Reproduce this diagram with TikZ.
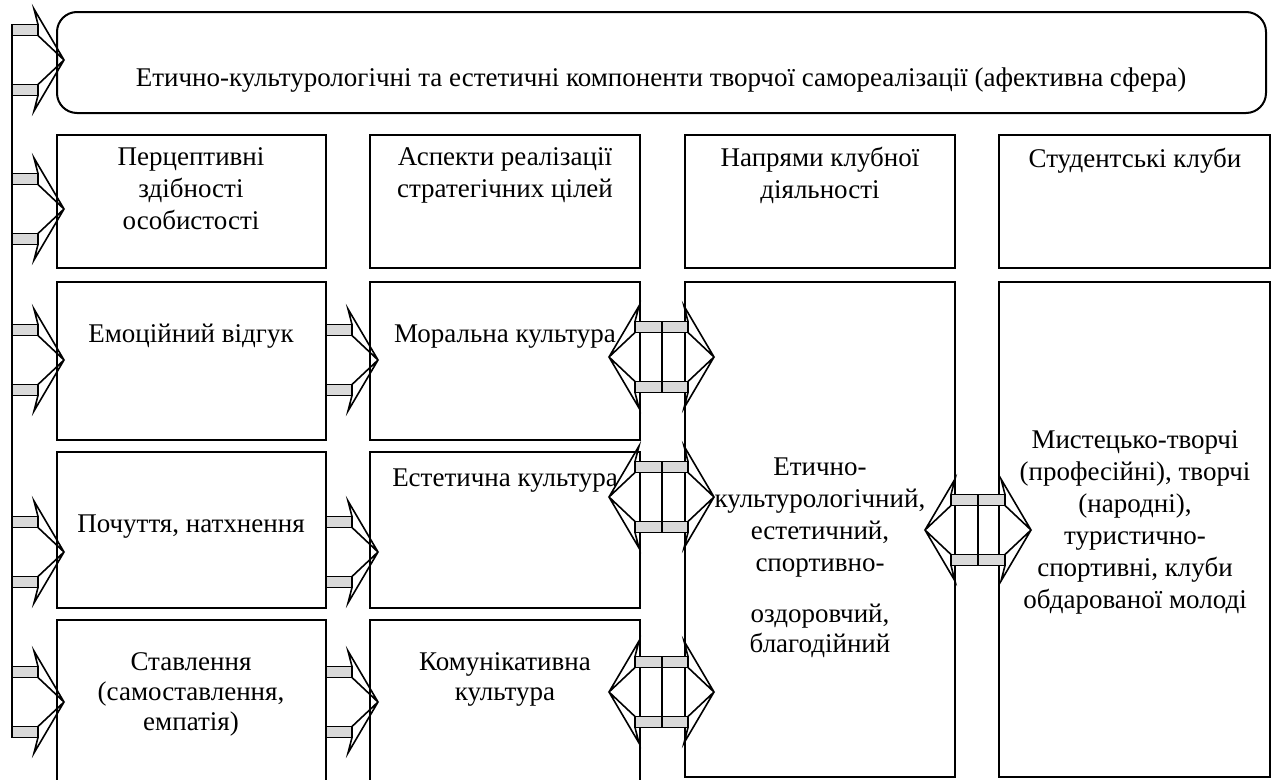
\documentclass[tikz,border=0pt]{standalone}
\usepackage{fontspec}
\setmainfont{Liberation Serif}
\newcommand\ahd[3]{% shaft end x, direction, centre y
  \draw[head] ({#1-#2*4},{#3-51}) -- ({#1+#2*26},#3) -- ({#1-#2*4},{#3+51})
    -- (#1,{#3+35.5}) -- (#1,{#3+24.5}) -- ({#1+#2*26},#3)
    -- (#1,{#3-24.5}) -- (#1,{#3-35.5}) -- cycle;}
\newcommand\shf[3]{% x1, x2, centre y
  \draw[shaft] (#1,{#3-35.5}) rectangle (#2,{#3-24.5});
  \draw[shaft] (#1,{#3+24.5}) rectangle (#2,{#3+35.5});}
\newcommand\dbl[3]{% left x, right x, centre y
  \shf{#1}{#2}{#3}
  \draw[conn] ({(#1+#2)/2},{#3-35.5}) -- ({(#1+#2)/2},{#3+35.5});
  \ahd{#2}{1}{#3}
  \ahd{#1}{-1}{#3}}
\begin{document}
\begin{tikzpicture}[x=1pt,y=-1pt,
  box/.style={draw=black,line width=2pt},
  shaft/.style={draw=black,line width=1.6pt,fill=black!15},
  head/.style={draw=black,line width=1.6pt,fill=white,miter limit=12},
  conn/.style={draw=black,line width=2pt},
  txt/.style={font=\fontsize{27}{32}\selectfont,align=center,inner sep=0pt,anchor=north,
    execute at begin node={\rule{0pt}{20pt}}},
  txtb/.style={txt,font=\fontsize{27}{30}\selectfont}]
\useasboundingbox (0,0) rectangle (1271,779);
% left connector and arrows
\draw[conn] (12,24.5) -- (12,737.5);
\foreach \c in {60,209,360,552,702}{\shf{12}{38}{\c}\ahd{38}{1}{\c}}
\foreach \c in {360,552,702}{\shf{326}{352}{\c}\ahd{352}{1}{\c}}
% boxes
\draw[box,rounded corners=20pt] (57,12) rectangle (1266,113);
\foreach \xa/\xb in {57/326,370/640,685/955,999/1270}{\draw[box] (\xa,135) rectangle (\xb,268);}
\foreach \xa/\xb in {57/326,370/640}{
  \draw[box] (\xa,282) rectangle (\xb,440);
  \draw[box] (\xa,452) rectangle (\xb,608);
  \draw[box] (\xa,620) rectangle (\xb,781);}
\draw[box] (685,282) rectangle (955,777);
\draw[box] (999,282) rectangle (1270,777);
% texts
\node[txt] (t0) at (661,66) {Етично-культурологічні та естетичні компоненти творчої самореалізації (афективна сфера)};
\node[txt] (h1) at (191,147) {Перцептивні\\здібності\\особистості};
\node[txt] (h2) at (505,147) {Аспекти реалізації\\стратегічних цілей};
\node[txt] (h3) at (820,147) {Напрями клубної\\діяльності};
\node[txt] (h4) at (1135,147) {Студентські клуби};
\node[txt] (e1) at (191,322) {Емоційний відгук};
\node[txt] (m1) at (505,322) {Моральна культура};
\node[txt] (p1) at (191,512) {Почуття, натхнення};
\node[txt] (es) at (505,466) {Естетична культура};
\node[txtb] (s1) at (191,652) {Ставлення\\(самоставлення,\\емпатія)};
\node[txtb] (k1) at (505,652) {Комунікативна\\культура};
\node[txt] (c3a) at (820,458) {Етично-\\культурологічний,\\естетичний,\\спортивно-};
\node[txtb] (c3b) at (820,604) {оздоровчий,\\благодійний};
\node[txt] (c4) at (1135,430) {Мистецько-творчі\\(професійні), творчі\\(народні),\\туристично-\\спортивні, клуби\\обдарованої молоді};
% double arrows
\dbl{635}{688}{357}
\dbl{635}{688}{497}
\dbl{635}{688}{692}
\dbl{951}{1005}{530}
\end{tikzpicture}
\end{document}
